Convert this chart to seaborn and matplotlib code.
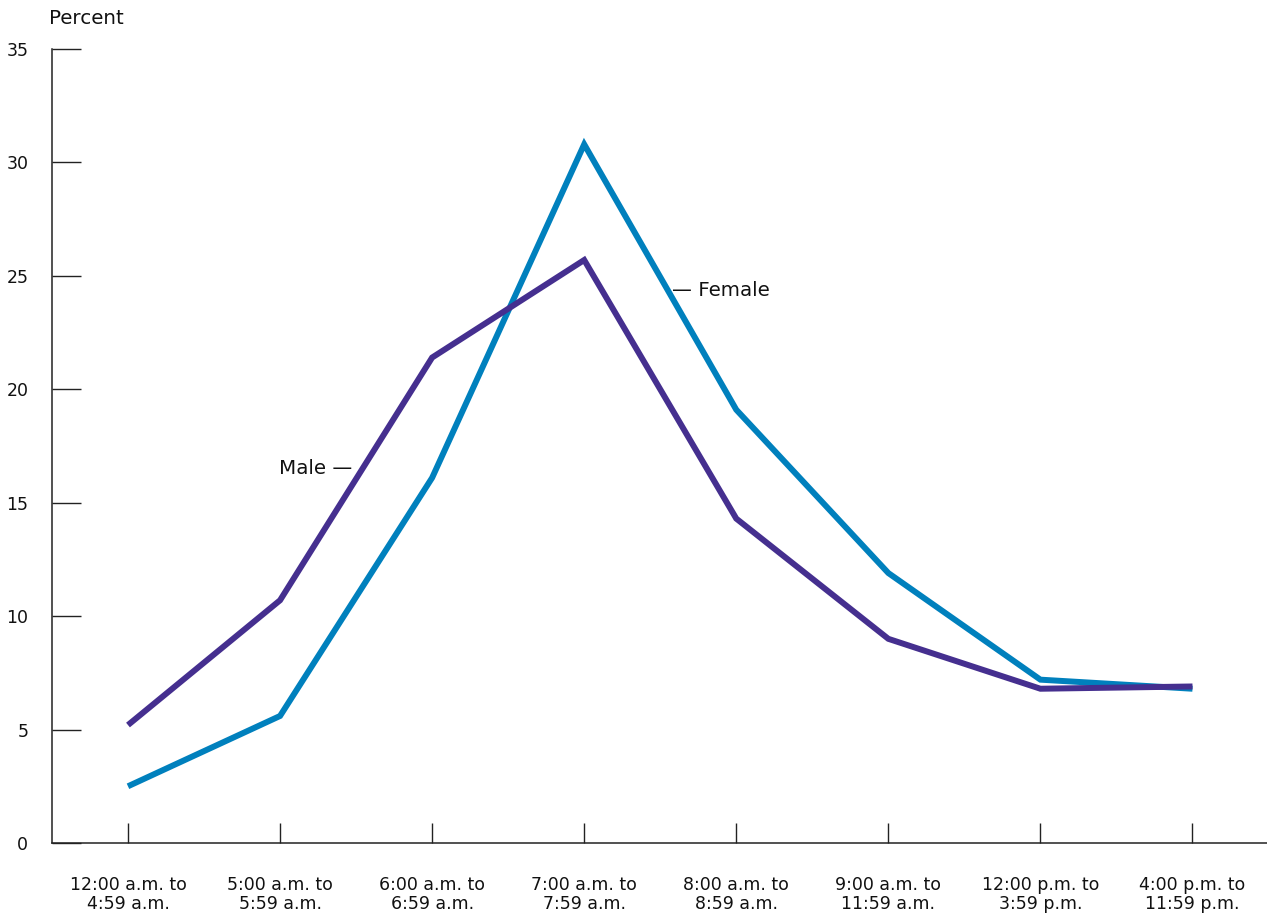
import pandas as pd
import seaborn as sns
import matplotlib.pyplot as plt

periods = ['12:00 a.m. to\n4:59 a.m.', '5:00 a.m. to\n5:59 a.m.', '6:00 a.m. to\n6:59 a.m.',
           '7:00 a.m. to\n7:59 a.m.', '8:00 a.m. to\n8:59 a.m.', '9:00 a.m. to\n11:59 a.m.',
           '12:00 p.m. to\n3:59 p.m.', '4:00 p.m. to\n11:59 p.m.']
male = [5.2, 10.7, 21.4, 25.7, 14.3, 9.0, 6.8, 6.9]
female = [2.5, 5.6, 16.1, 30.8, 19.1, 11.9, 7.2, 6.8]
y_ticks = [0, 5, 10, 15, 20, 25, 30, 35]

colors = {'Male': '#452f8f', 'Female': '#0080bd'}


def build_frame():
    rows = []
    for i, p in enumerate(periods):
        rows.append({'pos': i, 'period': p, 'sex': 'Male', 'pct': male[i]})
        rows.append({'pos': i, 'period': p, 'sex': 'Female', 'pct': female[i]})
    return pd.DataFrame(rows)


def make_chart(df):
    sns.set_style('white')
    plt.rcParams['font.family'] = ['DejaVu Sans']
    plt.rcParams['text.color'] = '#111111'
    fig = plt.figure(figsize=(12.67, 9.15), dpi=100)
    ax = fig.add_axes([0.041, 0.0787, 0.959, 0.8677])
    sns.lineplot(data=df, x='pos', y='pct', hue='sex', hue_order=['Female', 'Male'],
                 palette=colors, linewidth=4.3, legend=False, ax=ax)
    for ln in ax.lines:
        ln.set_solid_capstyle('butt')
        ln.set_solid_joinstyle('miter')
    ax.set_xlim(-0.5, 7.49)
    ax.set_ylim(0, 35)
    ax.set_xticks(range(len(periods)))
    ax.set_xticklabels(periods, fontsize=12.5, linespacing=1.05)
    ax.set_yticks(y_ticks)
    ax.set_yticklabels([str(t) for t in y_ticks], fontsize=12.5)
    ax.tick_params(axis='y', left=True, direction='in', length=21, width=1, pad=17,
                   color='#222222', labelcolor='#111111')
    ax.tick_params(axis='x', bottom=True, direction='in', length=14.5, width=1, pad=24,
                   color='#222222', labelcolor='#111111')
    for s in ['top', 'right']:
        ax.spines[s].set_visible(False)
    for s in ['left', 'bottom']:
        ax.spines[s].set_color('#222222')
        ax.spines[s].set_linewidth(1.1)
    ax.set_xlabel('')
    ax.set_ylabel('')
    fig.text(49 / 1267, 1 - 18 / 915, 'Percent', fontsize=14.3, ha='left', va='center')
    ax.text(3.58, 24.35, '— Female', fontsize=14.3, ha='left', va='center')
    ax.text(1.475, 16.5, 'Male —', fontsize=14.3, ha='right', va='center')
    fig.savefig('out.png', dpi=100)


if __name__ == '__main__':
    make_chart(build_frame())
